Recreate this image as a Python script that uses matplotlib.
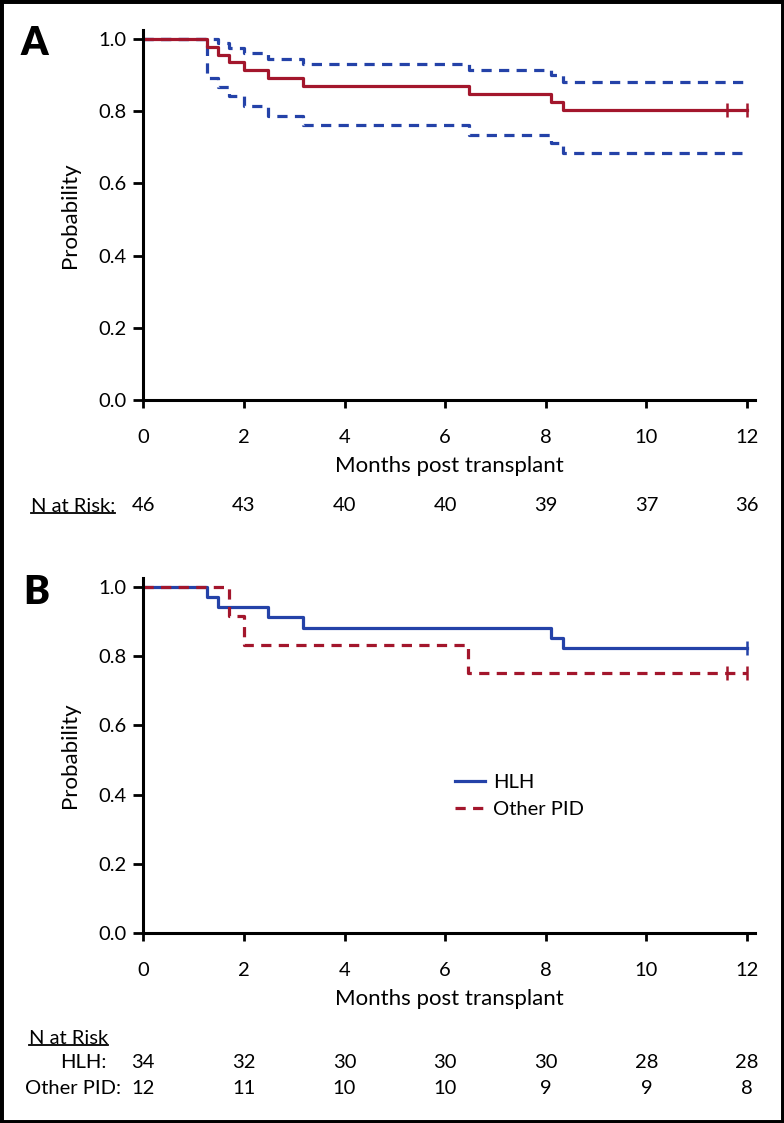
import matplotlib
matplotlib.use("Agg")
import matplotlib.pyplot as plt
from matplotlib.lines import Line2D
from matplotlib.patches import Rectangle

plt.rcParams['font.family'] = ['Lato', 'DejaVu Sans']

RED = "#a3162c"
BLUE = "#2442a8"

# panel A: overall survival with confidence band
a_time = [0, 1.27, 1.48, 1.70, 2.01, 2.47, 3.17, 6.47, 8.10, 8.35, 12.0]
a_surv = [1.0, 0.978, 0.957, 0.935, 0.913, 0.891, 0.870, 0.848, 0.826, 0.804, 0.804]
a_upper = [1.0, 1.0, 0.988, 0.974, 0.960, 0.946, 0.931, 0.914, 0.900, 0.882, 0.882]
a_lower = [1.0, 0.891, 0.867, 0.842, 0.814, 0.788, 0.762, 0.734, 0.711, 0.683, 0.683]
a_censor = [11.6, 12.0]
a_risk = [46, 43, 40, 40, 39, 37, 36]

# panel B: HLH vs other PID
hlh_time = [0, 1.27, 1.49, 2.47, 3.17, 8.10, 8.34, 12.0]
hlh_surv = [1.0, 0.971, 0.941, 0.912, 0.882, 0.853, 0.824, 0.824]
hlh_censor = [12.0]
pid_time = [0, 1.70, 2.01, 6.45, 12.0]
pid_surv = [1.0, 0.917, 0.833, 0.75, 0.75]
pid_censor = [11.6, 12.0]
hlh_risk = [34, 32, 30, 30, 30, 28, 28]
pid_risk = [12, 11, 10, 10, 9, 9, 8]

risk_months = [0, 2, 4, 6, 8, 10, 12]

W, H = 784, 1123
FS = 14.5
fig = plt.figure(figsize=(W / 100, H / 100), dpi=100)


def px_axes(left, right, top, bottom):
    return fig.add_axes([left / W, 1 - bottom / H, (right - left) / W, (bottom - top) / H])


def style(ax, ymax):
    ax.set_xlim(0, 12.16)
    ax.set_ylim(0, ymax)
    ax.set_xticks(risk_months)
    ax.set_yticks([0, 0.2, 0.4, 0.6, 0.8, 1.0])
    ax.set_yticklabels(["0.0", "0.2", "0.4", "0.6", "0.8", "1.0"])
    for s in ["top", "right"]:
        ax.spines[s].set_visible(False)
    for s in ["left", "bottom"]:
        ax.spines[s].set_linewidth(2.2)
    ax.tick_params(axis="y", length=7, width=2, pad=5, labelsize=FS)
    ax.tick_params(axis="x", length=6, width=2, pad=15, labelsize=FS)
    ax.set_ylabel("Probability", fontsize=16, labelpad=13)
    ax.set_xlabel("Months post transplant", fontsize=16, labelpad=7)


# ---- panel A
axA = px_axes(143.3, 755, 30, 400)
style(axA, 1.025)
axA.step(a_time, a_upper, where="post", color=BLUE, lw=2.3, dashes=(3.2, 2.3))
axA.step(a_time, a_lower, where="post", color=BLUE, lw=2.3, dashes=(3.2, 2.3))
axA.step(a_time, a_surv, where="post", color=RED, lw=2.3)
axA.plot(a_censor, [a_surv[-1]] * len(a_censor), ls="none", marker="|",
         color=RED, ms=10, mew=1.8)
for m, n in zip(risk_months, a_risk):
    axA.text(m, -0.286, str(n), transform=axA.get_xaxis_transform(),
             ha="center", va="center", fontsize=FS)

# ---- panel B
axB = px_axes(143.3, 755, 578, 933)
style(axB, 1.026)
axB.step(hlh_time, hlh_surv, where="post", color=BLUE, lw=2.3, label="HLH")
axB.step(pid_time, pid_surv, where="post", color=RED, lw=2.3,
         dashes=(3.2, 2.3), label="Other PID")
axB.plot(hlh_censor, [hlh_surv[-1]], ls="none", marker="|", color=BLUE, ms=10, mew=1.8)
axB.plot(pid_censor, [pid_surv[-1]] * len(pid_censor), ls="none", marker="|",
         color=RED, ms=10, mew=1.8)
axB.legend(loc="center left", bbox_to_anchor=(0.48, 0.385), frameon=False,
           fontsize=FS, handlelength=1.5, handletextpad=0.4, labelspacing=0.5)
for m, n in zip(risk_months, hlh_risk):
    axB.text(m, -0.366, str(n), transform=axB.get_xaxis_transform(),
             ha="center", va="center", fontsize=FS)
for m, n in zip(risk_months, pid_risk):
    axB.text(m, -0.437, str(n), transform=axB.get_xaxis_transform(),
             ha="center", va="center", fontsize=FS)

# panel letters
fig.text(21 / W, 1 - 55 / H, "A", fontsize=28, fontweight="heavy", ha="left", va="baseline")
fig.text(23 / W, 1 - 604 / H, "B", fontsize=28, fontweight="heavy", ha="left", va="baseline")

# row labels
riskA = fig.text(31 / W, 1 - 506 / H, "N at Risk:", fontsize=FS, ha="left", va="center")
riskB = fig.text(29 / W, 1 - 1038 / H, "N at Risk", fontsize=FS, ha="left", va="center")
fig.text(107 / W, 1 - 1063 / H, "HLH:", fontsize=FS, ha="right", va="center")
fig.text(121 / W, 1 - 1088 / H, "Other PID:", fontsize=FS, ha="right", va="center")

# underline the "N at Risk" headers
fig.canvas.draw()
r = fig.canvas.get_renderer()
for t in (riskA, riskB):
    bb = t.get_window_extent(r).transformed(fig.transFigure.inverted())
    y = bb.y0 + 1.5 / H
    fig.add_artist(Line2D([bb.x0, bb.x1], [y, y], transform=fig.transFigure,
                          color="black", lw=1.3))

# black frame around the figure
fig.add_artist(Rectangle((0, 0), 1, 1, transform=fig.transFigure, fill=False,
                         edgecolor="black", lw=5))

fig.savefig("out.png", dpi=100)
